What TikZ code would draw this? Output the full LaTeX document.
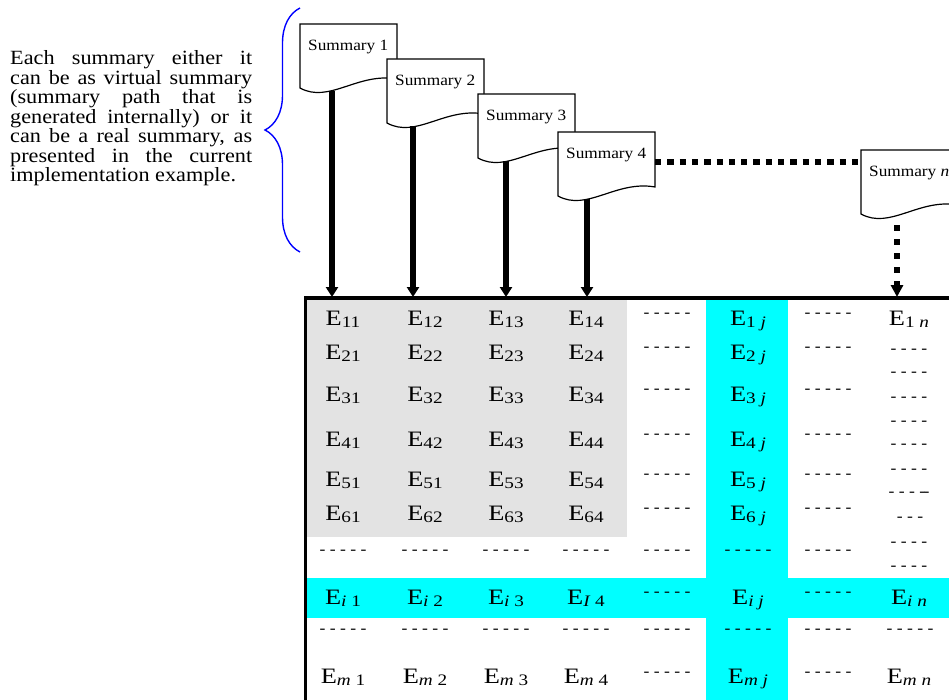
\documentclass[tikz,border=0pt]{standalone}
\usepackage{fontspec}
\setmainfont[FakeStretch=1.1]{Liberation Serif}
\newfontfamily\cellfont[FakeStretch=1.2]{Liberation Serif}
\usetikzlibrary{arrows.meta, decorations.pathreplacing}
\definecolor{cellgrey}{RGB}{227,227,227}
\definecolor{hicyan}{RGB}{0,255,255}
\definecolor{braceblue}{RGB}{0,0,255}

\tikzset{
  note/.style={inner sep=0pt, text width=242pt, align=justify, font=\fontsize{20.2}{19.5}\selectfont},
  docline/.style={draw=black, line width=1.2pt, fill=white},
  summlabel/.style={anchor=west, inner sep=0pt, text height=10.4pt, text depth=0pt, font=\fontsize{15.7}{18}\selectfont},
  cell/.style={inner sep=0pt, text height=14.6pt, text depth=0pt, font=\cellfont\fontsize{22}{24}\selectfont},
  gap/.style={inner sep=0pt, text height=7.4pt, text depth=0pt, font=\fontsize{16}{18}\selectfont},
  feed/.style={line width=5.5pt, -{Triangle[width=12pt,length=10pt]}},
  feeddots/.style={line width=5.5pt, dash pattern=on 5.5pt off 8.5pt, dash phase=5.5pt, -{Triangle[width=12pt,length=12pt]}},
  linkdots/.style={line width=6.3pt, dash pattern=on 6.3pt off 6pt},
  tableline/.style={line width=3.5pt},
  bracket/.style={draw=braceblue, line width=1.4pt, decorate, decoration={brace, amplitude=35pt}},
}

% lowered subscript of a cell
\newcommand{\cellsub}[1]{\raisebox{-2.6pt}{\fontsize{16}{16}\selectfont #1}}

% one summary sheet: name, top left x, top left y, label
\newcommand{\summarydoc}[4]{%
  \begin{scope}[shift={(#2,#3)}]
    \draw[docline] (0,0) -- (97,0) -- (97,55) .. controls (58,48) and (29,80) .. (0,64) -- cycle;
    \node[summlabel] (#1) at (8,21) {#4};
    \coordinate (#1-nw) at (0,0);
    \coordinate (#1-east) at (97,30);
    \coordinate (#1-foot) at (30,67);
  \end{scope}}

\begin{document}
\begin{tikzpicture}[x=1pt, y=-1pt]
  \useasboundingbox (0,0) rectangle (949,700);
  \clip (0,0) rectangle (949,700);

  \node[note, anchor=north west] (note) at (10,50.5) {Each summary either it\linebreak
    can be as virtual summary\linebreak (summary path that is\linebreak
    generated internally) or it\linebreak can be a real summary, as\linebreak
    presented in the current\linebreak implementation example.};
  \draw[bracket] (300,252) -- (300,8);

  % table background and frame
  \fill[cellgrey] (307,300) rectangle (627,537);
  \fill[hicyan] (706,300) rectangle (788,700);
  \fill[hicyan] (307,578) rectangle (949,618);
  \draw[tableline] (305.5,700) -- (305.5,298) -- (949,298);

  \foreach \row/\yy/\sec in {1/318/12, 2/352/22, 3/394/32, 4/439/42, 5/479/51, 6/513/62} {
    \node[cell] (e\row-1) at (343,\yy) {E\cellsub{\row1}};
    \node[cell] (e\row-2) at (425,\yy) {E\cellsub{\sec}};
    \node[cell] (e\row-3) at (506,\yy) {E\cellsub{\row3}};
    \node[cell] (e\row-4) at (586,\yy) {E\cellsub{\row4}};
    \node[gap] (e\row-5) at (667,\yy-4) {- - - - -};
    \node[cell] (e\row-6) at (748,\yy) {E\cellsub{\row\ \textit{j}}};
    \node[gap] (e\row-7) at (828,\yy-4) {- - - - -};
  }
  \node[cell] (e1-8) at (909,318) {E\cellsub{1 \textit{n}}};
  \foreach \yy [count=\k] in {350,373,398,422,445,470,543,567}
    \node[gap] (en-\k) at (909,\yy) {- - - -};
  \node[gap] (en-a) at (909,493) {- - - -\kern-1.5pt-};
  \node[gap] (en-b) at (910,518) {- - -};

  \foreach \xx [count=\k] in {343,425,506,586,667,748,828}
    \node[gap] (d1-\k) at (\xx,551) {- - - - -};
  \foreach \xx [count=\k] in {343,425,506,586,667,748,828,910}
    \node[gap] (d2-\k) at (\xx,630) {- - - - -};

  \node[cell] (ei-1) at (343,597) {E\cellsub{\textit{i} 1}};
  \node[cell] (ei-2) at (425,597) {E\cellsub{\textit{i} 2}};
  \node[cell] (ei-3) at (506,597) {E\cellsub{\textit{i} 3}};
  \node[cell] (ei-4) at (586,597) {E\cellsub{\textit{I} 4}};
  \node[gap] (ei-5) at (667,593) {- - - - -};
  \node[cell] (ei-6) at (748,597) {E\cellsub{\textit{i j}}};
  \node[gap] (ei-7) at (828,593) {- - - - -};
  \node[cell] (ei-8) at (909,597) {E\cellsub{\textit{i n}}};

  \node[cell] (em-1) at (343,676) {E\cellsub{\textit{m} 1}};
  \node[cell] (em-2) at (425,676) {E\cellsub{\textit{m} 2}};
  \node[cell] (em-3) at (506,676) {E\cellsub{\textit{m} 3}};
  \node[cell] (em-4) at (586,676) {E\cellsub{\textit{m} 4}};
  \node[gap] (em-5) at (667,673) {- - - - -};
  \node[cell] (em-6) at (748,676) {E\cellsub{\textit{m j}}};
  \node[gap] (em-7) at (828,673) {- - - - -};
  \node[cell] (em-8) at (909,676) {E\cellsub{\textit{m n}}};

  % summaries
  \summarydoc{s1}{300}{24}{Summary 1}
  \summarydoc{s2}{387}{59}{Summary 2}
  \summarydoc{s3}{478}{94}{Summary 3}
  \summarydoc{s4}{558}{132}{Summary 4}
  \summarydoc{sn}{861}{150}{Summary \textit{n}}
  \draw[linkdots] (s4-east) -- (s4-east -| sn-nw);

  \coordinate (a1) at (332,297);
  \coordinate (a2) at (413,297);
  \coordinate (a3) at (506,297);
  \coordinate (a4) at (587,297);
  \coordinate (an) at (897,297);
  \foreach \k in {1,2,3,4}
    \draw[feed] (a\k |- s\k-foot) -- (a\k);
  \draw[feeddots] (an |- sn-foot) -- (an);
\end{tikzpicture}
\end{document}
